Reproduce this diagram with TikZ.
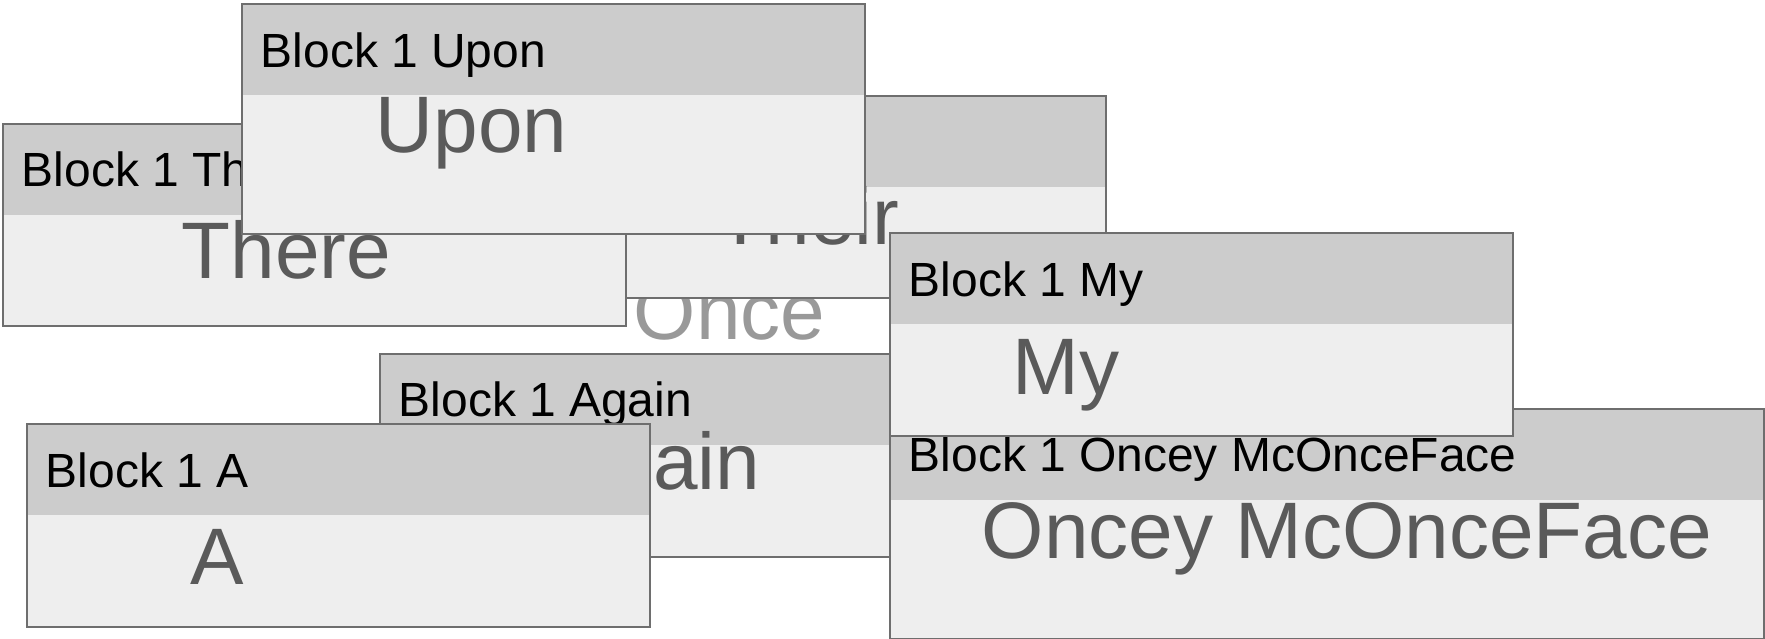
\documentclass[tikz,border=0pt]{standalone}
\usepackage{fontspec}
\setmainfont{Liberation Sans}
\usetikzlibrary{positioning}
\definecolor{edge}{HTML}{6E6E6E}
\definecolor{headfill}{HTML}{CCCCCC}
\definecolor{bodyfill}{HTML}{EEEEEE}
\definecolor{bigink}{HTML}{5A5A5A}
\definecolor{faint}{HTML}{999999}

\begin{document}
\begin{tikzpicture}[
  blockbox/.style={draw=edge, line width=0.5pt, fill=bodyfill, anchor=north west,
    inner sep=0pt, minimum width=6.23cm, minimum height=2.02cm,
    path picture={\fill[headfill] (path picture bounding box.north west)
      rectangle ([yshift=-0.91cm]path picture bounding box.north east);}},
  headtext/.style={anchor=base west, inner sep=0pt, text=black,
    font=\fontsize{13.65}{16}\selectfont},
  bigtext/.style={anchor=base west, inner sep=0pt, text=bigink,
    font=\fontsize{22.8}{27}\selectfont}
]
\useasboundingbox (0,0) rectangle (17.65,-6.39);

% floating word behind the boxes
\node[bigtext, text=faint] (once) at (6.33,-3.40) {Once};

\node[blockbox] (their) at (4.82,-0.95) {};
\node[bigtext, anchor=base east] (their-t) at ([xshift=4.18cm,yshift=-1.50cm]their.north west) {Their};

\node[blockbox] (there) at (0.02,-1.23) {};
\node[headtext] (there-h) at ([xshift=0.19cm,yshift=-0.64cm]there.north west) {Block 1 There};
\node[bigtext] (there-t) at ([xshift=1.79cm,yshift=-1.56cm]there.north west) {There};

\node[blockbox, minimum height=2.30cm] (upon) at (2.41,-0.03) {};
\node[headtext] (upon-h) at ([xshift=0.19cm,yshift=-0.65cm]upon.north west) {Block 1 Upon};
\node[bigtext] (upon-t) at ([xshift=1.34cm,yshift=-1.50cm]upon.north west) {Upon};

\node[blockbox, minimum height=2.03cm] (again) at (3.79,-3.53) {};
\node[headtext] (again-h) at ([xshift=0.19cm,yshift=-0.64cm]again.north west) {Block 1 Again};
\node[bigtext, anchor=base east] (again-t) at ([xshift=3.82cm,yshift=-1.37cm]again.north west) {Again};

\node[blockbox, minimum height=2.03cm] (a) at (0.26,-4.23) {};
\node[headtext] (a-h) at ([xshift=0.19cm,yshift=-0.65cm]a.north west) {Block 1 A};
\node[bigtext] (a-t) at ([xshift=1.64cm,yshift=-1.62cm]a.north west) {A};

\node[blockbox, minimum width=8.74cm, minimum height=2.30cm] (oncey) at (8.89,-4.08) {};
\node[headtext] (oncey-h) at ([xshift=0.19cm,yshift=-0.64cm]oncey.north west) {Block 1 Oncey McOnceFace};
\node[bigtext] (oncey-t) at ([xshift=0.92cm,yshift=-1.51cm]oncey.north west) {Oncey McOnceFace};

\node[blockbox, minimum height=2.03cm] (my) at (8.89,-2.32) {};
\node[headtext] (my-h) at ([xshift=0.19cm,yshift=-0.65cm]my.north west) {Block 1 My};
\node[bigtext] (my-t) at ([xshift=1.23cm,yshift=-1.63cm]my.north west) {My};

\end{tikzpicture}
\end{document}
